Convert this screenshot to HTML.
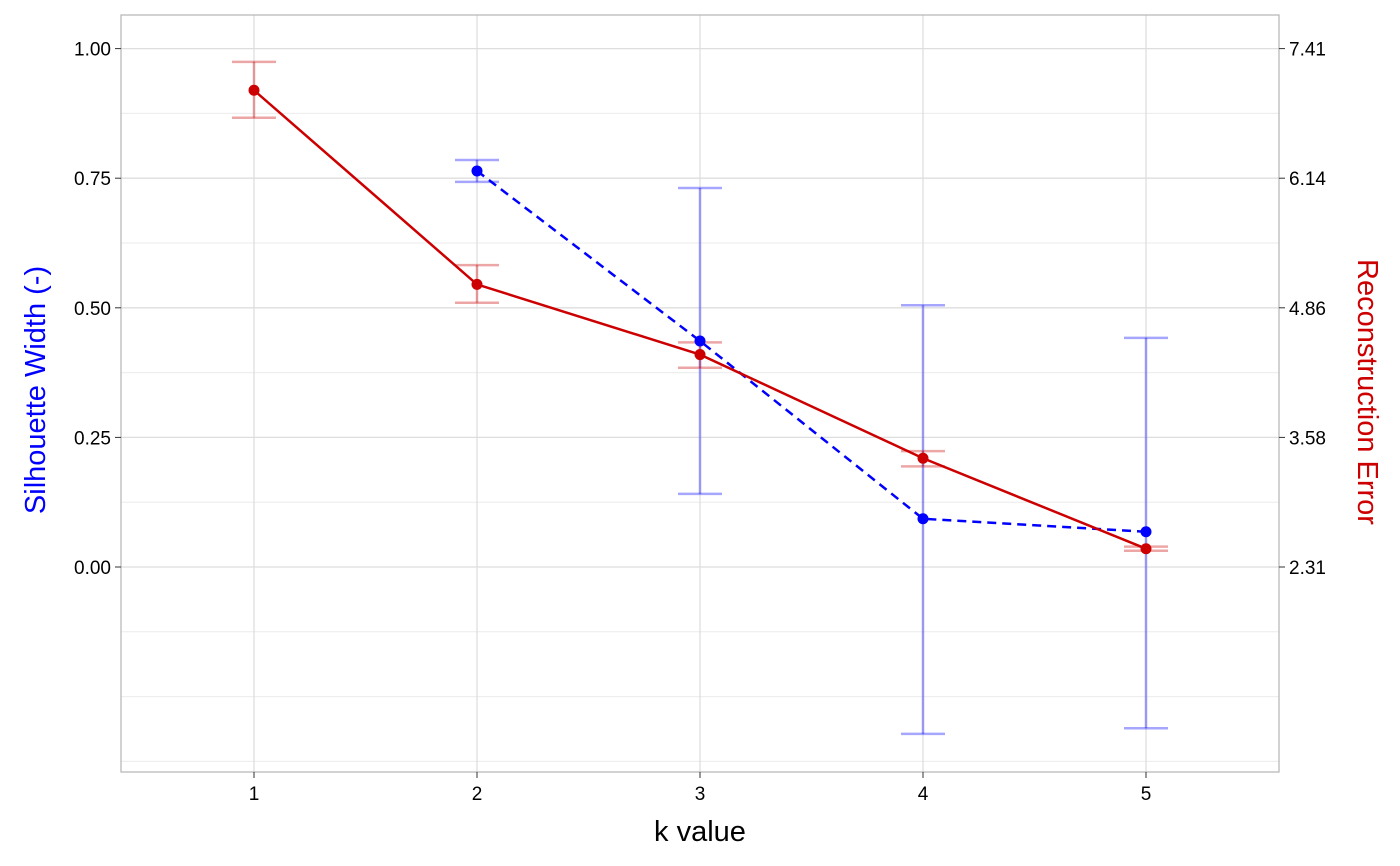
<!DOCTYPE html>
<html><head><meta charset="utf-8"><style>
body{margin:0;background:#fff;}
svg{display:block;font-family:"Liberation Sans",Arial,sans-serif;}
</style></head><body>
<svg id="chart" width="1400" height="866" viewBox="0 0 1400 866" xmlns="http://www.w3.org/2000/svg">
<g id="grid"></g>
<g id="marks"></g>
<rect x="121" y="15" width="1158" height="757" fill="none" stroke="#b3b3b3" stroke-width="1.2"/>
<g id="axes"></g>
<text x="700" y="841" font-size="29" text-anchor="middle" fill="#000">k value</text>
<text transform="translate(45,390) rotate(-90)" font-size="29" text-anchor="middle" fill="#0000ff">Silhouette Width (-)</text>
<text transform="translate(1358,392) rotate(90)" font-size="29" text-anchor="middle" fill="#cc0000">Reconstruction Error</text>
</svg>
<script>
const kValues=[1,2,3,4,5];
const silK=[2,3,4,5];
const silMean=[0.764,0.436,0.093,0.068];
const silHi=[0.785,0.731,0.505,0.442];
const silLo=[0.743,0.141,-0.322,-0.311];
const errK=[1,2,3,4,5];
const errMean=[7.00,5.09,4.40,3.38,2.49];
const errHi=[7.28,5.28,4.52,3.45,2.51];
const errLo=[6.73,4.91,4.27,3.30,2.47];
const leftTicks=[0,0.25,0.5,0.75,1.0];
const leftTickLabels=["0.00","0.25","0.50","0.75","1.00"];
const minorTicks=[-0.375,-0.25,-0.125,0.125,0.375,0.625,0.875];
const rightTickLabels=["2.31","3.58","4.86","6.14","7.41"];

const NS="http://www.w3.org/2000/svg";
const x=k=>254+(k-1)*223;
const y=v=>567-v*518.4;
const errToSil=e=>(e-2.31)/5.1;
function el(tag,attrs,parent){const e=document.createElementNS(NS,tag);for(const a in attrs)e.setAttribute(a,attrs[a]);parent.appendChild(e);return e;}
const grid=document.getElementById('grid'),marks=document.getElementById('marks'),axes=document.getElementById('axes');

minorTicks.forEach(v=>{const l=el('line',{x1:121,x2:1279,y1:y(v),y2:y(v),stroke:'#ebebeb','stroke-width':1},grid);

});
leftTicks.forEach((v,i)=>{const l=el('line',{x1:121,x2:1279,y1:y(v),y2:y(v),stroke:'#dedede','stroke-width':1.3},grid);


const t=el('text',{x:111,y:y(v)+7,'font-size':19,'text-anchor':'end',fill:'#000'},axes);t.textContent=leftTickLabels[i];


el('line',{x1:115,x2:121,y1:y(v),y2:y(v),stroke:'#333'},axes);
const r=el('text',{x:1289,y:y(v)+7,'font-size':19,'text-anchor':'start',fill:'#000'},axes);r.textContent=rightTickLabels[i];


el('line',{x1:1279,x2:1285,y1:y(v),y2:y(v),stroke:'#333'},axes);});
kValues.forEach(k=>{const l=el('line',{x1:x(k),x2:x(k),y1:15,y2:772,stroke:'#dedede','stroke-width':1.3},grid);


el('line',{x1:x(k),x2:x(k),y1:772,y2:778,stroke:'#333'},axes);
const t=el('text',{x:x(k),y:800,'font-size':19,'text-anchor':'middle',fill:'#000'},axes);t.textContent=k;

});

function errbar(kx,lo,hi,col){const g=el('g',{stroke:col,'stroke-opacity':0.35,'stroke-width':2.5},marks);
el('line',{x1:kx,x2:kx,y1:y(lo),y2:y(hi)},g);el('line',{x1:kx-22,x2:kx+22,y1:y(lo),y2:y(lo)},g);el('line',{x1:kx-22,x2:kx+22,y1:y(hi),y2:y(hi)},g);return g;}
silK.forEach((k,i)=>{const g=errbar(x(k),silLo[i],silHi[i],'#0000ff');

});
errK.forEach((k,i)=>{const g=errbar(x(k),errToSil(errLo[i]),errToSil(errHi[i]),'#cc0000');

});
const bl=el('polyline',{points:silK.map((k,i)=>x(k)+','+y(silMean[i])).join(' '),fill:'none',stroke:'#0000ff','stroke-width':2.5,'stroke-dasharray':'9,6'},marks);


const rl=el('polyline',{points:errK.map((k,i)=>x(k)+','+y(errToSil(errMean[i]))).join(' '),fill:'none',stroke:'#cc0000','stroke-width':2.5},marks);


silK.forEach((k,i)=>{const c=el('circle',{cx:x(k),cy:y(silMean[i]),r:5.5,fill:'#0000ff'},marks);

});
errK.forEach((k,i)=>{const c=el('circle',{cx:x(k),cy:y(errToSil(errMean[i])),r:5.5,fill:'#cc0000'},marks);

});
</script>
</body></html>
